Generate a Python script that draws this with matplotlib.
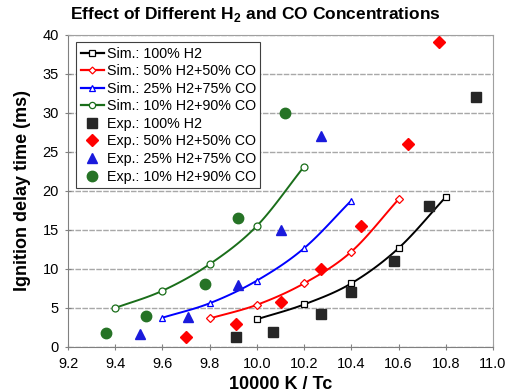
import numpy as np
import matplotlib
matplotlib.use("Agg")
import matplotlib.pyplot as plt

plt.rcParams['font.family'] = ['Liberation Sans', 'DejaVu Sans']

# Simulation data
sim_x_h2 = [10.0, 10.2, 10.4, 10.6, 10.8]
sim_y_h2 = [3.55, 5.45, 8.15, 12.65, 19.2]
sim_x_50 = [9.8, 10.0, 10.2, 10.4, 10.6]
sim_y_50 = [3.65, 5.4, 8.15, 12.2, 18.9]
sim_x_25 = [9.6, 9.8, 10.0, 10.2, 10.4]
sim_y_25 = [3.75, 5.6, 8.5, 12.65, 18.75]
sim_x_10 = [9.4, 9.6, 9.8, 10.0, 10.2]
sim_y_10 = [5.0, 7.2, 10.6, 15.5, 23.1]

# Experimental data
exp_x_h2 = [9.91, 10.07, 10.27, 10.40, 10.58, 10.73, 10.93]
exp_y_h2 = [1.3, 1.95, 4.2, 7.0, 11.0, 18.0, 32.0]
exp_x_50 = [9.70, 9.91, 10.10, 10.27, 10.44, 10.64, 10.77]
exp_y_50 = [1.3, 3.0, 5.7, 10.0, 15.5, 26.0, 39.0]
exp_x_25 = [9.505, 9.71, 9.92, 10.10, 10.27]
exp_y_25 = [1.7, 3.9, 7.9, 15.0, 27.0]
exp_x_10 = [9.36, 9.53, 9.78, 9.92, 10.12]
exp_y_10 = [1.75, 3.95, 8.05, 16.5, 30.0]

sim_labels = ["Sim.: 100% H2", "Sim.: 50% H2+50% CO",
              "Sim.: 25% H2+75% CO", "Sim.: 10% H2+90% CO"]
exp_labels = ["Exp.: 100% H2", "Exp.: 50% H2+50% CO",
              "Exp.: 25% H2+75% CO", "Exp.: 10% H2+90% CO"]


def smooth(xs, ys, n=20):
    # Catmull-Rom spline through the points (rendering only)
    P = np.column_stack([xs, ys]).astype(float)
    P = np.vstack([2 * P[0] - P[1], P, 2 * P[-1] - P[-2]])
    out = []
    t = np.linspace(0, 1, n)[:, None]
    for i in range(1, len(P) - 2):
        p0, p1, p2, p3 = P[i - 1], P[i], P[i + 1], P[i + 2]
        seg = 0.5 * ((2 * p1) + (-p0 + p2) * t + (2 * p0 - 5 * p1 + 4 * p2 - p3) * t ** 2
                     + (-p0 + 3 * p1 - 3 * p2 + p3) * t ** 3)
        out.append(seg if i == 1 else seg[1:])
    S = np.vstack(out)
    return S[:, 0], S[:, 1]


fig = plt.figure(figsize=(5.1, 3.92), dpi=100)
ax = fig.add_axes([68 / 510, 1 - 347 / 392, (493 - 68) / 510, (347 - 34.5) / 392])

sims = [(sim_x_h2, sim_y_h2, 'black', 's', 5),
        (sim_x_50, sim_y_50, 'red', 'D', 4),
        (sim_x_25, sim_y_25, 'blue', '^', 5),
        (sim_x_10, sim_y_10, '#1a6e1a', 'o', 5)]
exps = [(exp_x_h2, exp_y_h2, '#262626', 's', 7),
        (exp_x_50, exp_y_50, 'red', 'D', 6),
        (exp_x_25, exp_y_25, '#1a1adc', '^', 7.5),
        (exp_x_10, exp_y_10, '#267326', 'o', 7.5)]

handles = []
for (xs, ys, c, m, ms), lab in zip(sims, sim_labels):
    sx, sy = smooth(xs, ys)
    ax.plot(sx, sy, color=c, lw=1.4, zorder=3)
    ax.plot(xs, ys, ls='none', marker=m, ms=ms, mfc='white', mec=c, mew=0.9, zorder=4)
    h, = ax.plot([], [], color=c, lw=1.6, marker=m, ms=ms - 0.5, mfc='white', mec=c, mew=0.9, label=lab)
    handles.append(h)
for (xs, ys, c, m, ms), lab in zip(exps, exp_labels):
    h, = ax.plot(xs, ys, ls='none', marker=m, ms=ms, color=c, mec=c, zorder=5, label=lab)
    handles.append(h)

ax.set_xlim(9.2, 11.0)
ax.set_ylim(0, 40)
ax.set_xticks(np.arange(9.2, 11.01, 0.2))
ax.set_xticklabels([f"{v:.1f}" for v in np.arange(9.2, 11.01, 0.2)])
ax.set_yticks(range(0, 41, 5))
ax.yaxis.grid(True, color='#a8a8a8', lw=1.0, ls=(0, (4, 1)))
ax.set_axisbelow(True)
for s in ax.spines.values():
    s.set_color('#a0a0a0')
ax.spines['left'].set_color('#808080')
ax.spines['bottom'].set_color('#808080')
ax.tick_params(direction='inout', length=5, color='#808080', labelsize=10.5)
ax.tick_params(axis='x', pad=5)
ax.tick_params(axis='y', pad=4)

ax.set_xlabel("10000 K / Tc", fontsize=13, fontweight='bold', labelpad=3)
ax.set_ylabel("Ignition delay time (ms)", fontsize=13, fontweight='bold', labelpad=8)
fig.text(0.5, 0.962, "Effect of Different H$_\\mathregular{2}$ and CO Concentrations",
         ha='center', va='center', fontsize=12.5, fontweight='bold')

leg = ax.legend(handles=handles, loc='upper left', bbox_to_anchor=(0.02, 0.975),
                fontsize=10.3, frameon=True, fancybox=False, framealpha=1,
                edgecolor='#404040', handlelength=1.6, handletextpad=0.2,
                borderpad=0.3, labelspacing=0.25, borderaxespad=0)
leg.get_frame().set_linewidth(0.8)

fig.savefig("out.png", dpi=100)
